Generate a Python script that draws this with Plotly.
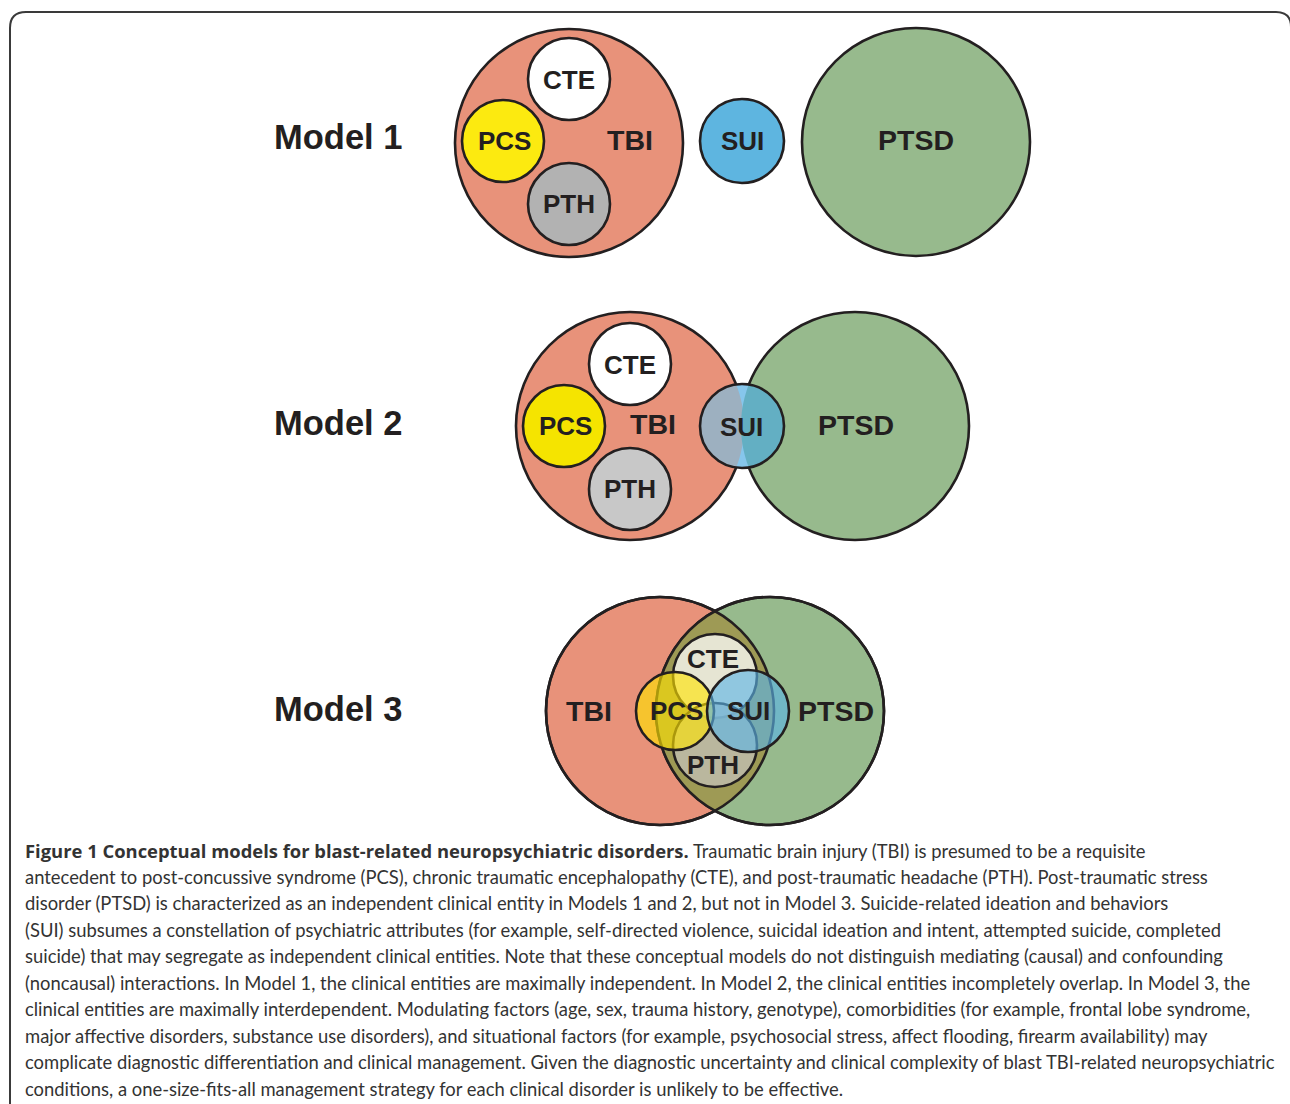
import numpy as np
import plotly.graph_objects as go

# ---------------- data ----------------
entities = ["TBI", "PTSD", "CTE", "PCS", "PTH", "SUI"]
big_entities = ["TBI", "PTSD"]

m1_cx = [569, 916, 569, 503, 569, 742]
m1_cy = [143, 142, 79, 141, 204, 141]
m1_r = [114, 114, 41, 41, 41, 42]
m1_lx = [630, 916, 569, 504, 569, 742]
m1_ly = [140, 140, 80, 141, 204, 141]

m2_cx = [630, 855, 630, 564, 630, 742]
m2_cy = [426, 426, 364, 426, 489, 426]
m2_r = [114, 114, 41, 41, 41, 42]
m2_lx = [653, 856, 630, 565, 630, 741]
m2_ly = [424, 425, 365, 426, 489, 427]

m3_cx = [660, 770, 715, 675, 715, 748]
m3_cy = [711, 711, 676, 711, 745, 711]
m3_r = [114, 114, 42, 39, 42, 41]
m3_lx = [589, 836, 713, 676, 713, 748]
m3_ly = [711, 711, 659, 711, 765, 711]

model_labels = ["Model 1", "Model 2", "Model 3"]
model_lx = [338, 338, 338]
model_ly = [137, 423, 709]

caption_title = "Figure 1 Conceptual models for blast-related neuropsychiatric disorders."
caption_lines = [
    " Traumatic brain injury (TBI) is presumed to be a requisite",
    "antecedent to post-concussive syndrome (PCS), chronic traumatic encephalopathy (CTE), and post-traumatic headache (PTH). Post-traumatic stress",
    "disorder (PTSD) is characterized as an independent clinical entity in Models 1 and 2, but not in Model 3. Suicide-related ideation and behaviors",
    "(SUI) subsumes a constellation of psychiatric attributes (for example, self-directed violence, suicidal ideation and intent, attempted suicide, completed",
    "suicide) that may segregate as independent clinical entities. Note that these conceptual models do not distinguish mediating (causal) and confounding",
    "(noncausal) interactions. In Model 1, the clinical entities are maximally independent. In Model 2, the clinical entities incompletely overlap. In Model 3, the",
    "clinical entities are maximally interdependent. Modulating factors (age, sex, trauma history, genotype), comorbidities (for example, frontal lobe syndrome,",
    "major affective disorders, substance use disorders), and situational factors (for example, psychosocial stress, affect flooding, firearm availability) may",
    "complicate diagnostic differentiation and clinical management. Given the diagnostic uncertainty and clinical complexity of blast TBI-related neuropsychiatric",
    "conditions, a one-size-fits-all management strategy for each clinical disorder is unlikely to be effective.",
]
caption_y0 = 850
caption_dy = 26.5

# ---------------- styles ----------------
INK = "#231F20"
LW = 2.6
SALMON = "#E8927A"
GREEN = "#97BA8D"

shapes = []


def circle(cx, cy, r, fill, line=True):
    shapes.append(dict(type="circle", xref="x", yref="y",
                       x0=cx - r, x1=cx + r, y0=cy - r, y1=cy + r,
                       fillcolor=fill,
                       line=dict(color=INK, width=LW if line else 0)))


def outline(cx, cy, r):
    shapes.append(dict(type="circle", xref="x", yref="y",
                       x0=cx - r, x1=cx + r, y0=cy - r, y1=cy + r,
                       fillcolor="rgba(0,0,0,0)",
                       line=dict(color=INK, width=LW)))


def lens(c1, c2, fill, n=80):
    (x1, y1, r1), (x2, y2, r2) = c1, c2
    d = np.hypot(x2 - x1, y2 - y1)
    a = (r1 ** 2 - r2 ** 2 + d ** 2) / (2 * d)
    phi = np.arctan2(y2 - y1, x2 - x1)
    al1 = np.arccos(np.clip(a / r1, -1, 1))
    al2 = np.arccos(np.clip((d - a) / r2, -1, 1))
    t1 = np.linspace(phi - al1, phi + al1, n)
    t2 = np.linspace(phi + np.pi - al2, phi + np.pi + al2, n)
    xs = np.concatenate([x1 + r1 * np.cos(t1), x2 + r2 * np.cos(t2)])
    ys = np.concatenate([y1 + r1 * np.sin(t1), y2 + r2 * np.sin(t2)])
    path = "M " + " L ".join(f"{x:.2f},{y:.2f}" for x, y in zip(xs, ys)) + " Z"
    shapes.append(dict(type="path", xref="x", yref="y", path=path,
                       fillcolor=fill, line=dict(width=0)))


# border
shapes.append(dict(type="path", xref="x", yref="y",
                   path="M 10,1115 L 10,28 Q 10,12 26,12 L 1276,12 Q 1291,12 1291,27 L 1291,1115",
                   fillcolor="rgba(0,0,0,0)", line=dict(color="#3A3A3A", width=2)))

# Model 1
fills1 = [SALMON, GREEN, "#FFFFFF", "#FCEA10", "#B2B2B2", "#5EB5E0"]
for i in range(6):
    circle(m1_cx[i], m1_cy[i], m1_r[i], fills1[i])

# Model 2
fills2 = [SALMON, GREEN, "#FFFFFF", "#F5E400", "#C8C8C8"]
for i in range(5):
    circle(m2_cx[i], m2_cy[i], m2_r[i], fills2[i])
sui2 = (m2_cx[5], m2_cy[5], m2_r[5])
circle(*sui2, "#86C6EC", line=False)
lens(sui2, (m2_cx[0], m2_cy[0], m2_r[0]), "#9DB0C0")
lens(sui2, (m2_cx[1], m2_cy[1], m2_r[1]), "#63AFC3")
outline(*sui2)

# Model 3
tbi3 = (m3_cx[0], m3_cy[0], m3_r[0])
ptsd3 = (m3_cx[1], m3_cy[1], m3_r[1])
circle(*tbi3, SALMON)
circle(*ptsd3, GREEN)
lens(tbi3, ptsd3, "#9E9A55")
outline(*tbi3)
outline(*ptsd3)
fills3 = ["rgba(255,255,255,0.74)", "rgba(192,190,176,0.8)",
          "rgba(255,228,0,0.62)", "rgba(90,180,232,0.62)"]
for k, i in enumerate([2, 4, 3, 5]):
    circle(m3_cx[i], m3_cy[i], m3_r[i], fills3[k])

# ---------------- text ----------------
annotations = []
HELV = "Liberation Sans, Arial, sans-serif"
for lx, ly in [(m1_lx, m1_ly), (m2_lx, m2_ly), (m3_lx, m3_ly)]:
    for i, name in enumerate(entities):
        size = 28.5 if name in big_entities else 26
        annotations.append(dict(x=lx[i], y=ly[i], xref="x", yref="y",
                                text=f"<b>{name}</b>", showarrow=False,
                                font=dict(family=HELV, size=size, color=INK),
                                xanchor="center", yanchor="middle"))
for lab, x, y in zip(model_labels, model_lx, model_ly):
    annotations.append(dict(x=x, y=y, xref="x", yref="y", text=f"<b>{lab}</b>",
                            showarrow=False, xanchor="center", yanchor="middle",
                            font=dict(family=HELV, size=34.5, color=INK)))
for k, line in enumerate(caption_lines):
    txt = line
    if k == 0:
        txt = f'<span style="font-family:Open Sans"><b>{caption_title}</b></span>' + line
    annotations.append(dict(x=23, y=caption_y0 + k * caption_dy, xref="x", yref="y",
                            text=txt, showarrow=False, xanchor="left", yanchor="middle",
                            font=dict(family="Lato, Open Sans, sans-serif", size=18.4, color="#333333")))

fig = go.Figure()
fig.update_layout(
    width=1290, height=1104,
    margin=dict(l=0, r=0, t=0, b=0),
    paper_bgcolor="white", plot_bgcolor="white",
    xaxis=dict(range=[0, 1290], visible=False, fixedrange=True),
    yaxis=dict(range=[1104, 0], visible=False, fixedrange=True),
    shapes=shapes, annotations=annotations, showlegend=False,
)
fig.write_html("out.html", config={"displayModeBar": False},
               post_script="document.body.style.margin='0px';document.body.style.overflow='hidden';")
